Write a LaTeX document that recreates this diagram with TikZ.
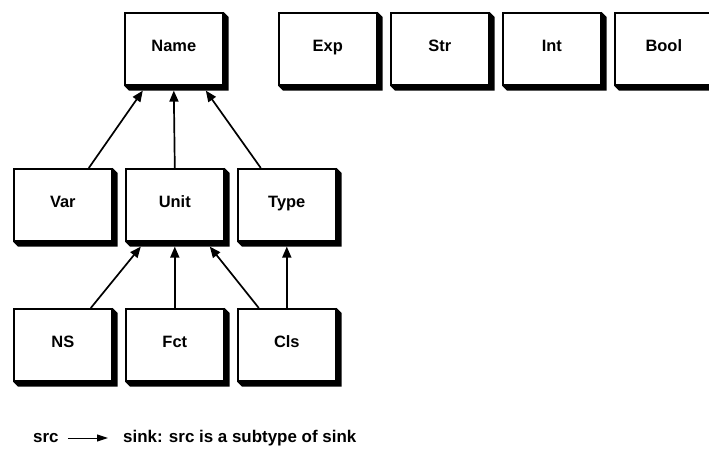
\documentclass[tikz,border=0pt]{standalone}
\usepackage{fontspec}
\setmainfont{Liberation Sans}
\usetikzlibrary{arrows.meta}
\tikzset{
  tbox/.style={draw=black, line width=1.6bp, fill=white, minimum width=98bp, minimum height=72bp,
    inner sep=0pt, anchor=north west},
  tlabel/.style={font=\bfseries\fontsize{16.5}{18}\selectfont, inner sep=0pt, anchor=base},
  sub/.style={line width=1.7bp, -{Triangle[length=11bp,width=9bp]}},
  legtxt/.style={font=\bfseries\fontsize{17}{19}\selectfont, inner sep=0pt}
}
\newcommand{\shbox}[3]{%
  \node[tbox] (#1) at #2 {};
  \fill[black] (#1.north east) -- ++(5bp,-5bp) -- ([shift={(5bp,-5bp)}]#1.south east)
     -- ([shift={(5bp,-5bp)}]#1.south west) -- (#1.south west) -- cycle;
  \node[tbox] at #2 {};
  \node[tlabel] (#1-t) at ([yshift=-3bp]#1.center) {#3};
}
\begin{document}
\begin{tikzpicture}[x=1bp,y=-1bp]
\useasboundingbox (0,0) rectangle (709,465);
\shbox{name}{(124,12)}{Name}
\shbox{exp}{(278,12)}{Exp}
\shbox{str}{(390,12)}{Str}
\shbox{int}{(502,12)}{Int}
\shbox{bool}{(614,12)}{Bool}
\shbox{var}{(13,168)}{Var}
\shbox{unit}{(125,168)}{Unit}
\shbox{type}{(237,168)}{Type}
\shbox{ns}{(13,308)}{NS}
\shbox{fct}{(125,308)}{Fct}
\shbox{cls}{(237,308)}{Cls}
% connectors
\draw[sub] ([xshift=26bp]var.north) -- ([xshift=-31bp,yshift=-5bp]name.south);
\draw[sub] (unit.north) -- ([yshift=-5bp]name.south);
\draw[sub] ([xshift=-26bp]type.north) -- ([xshift=32bp,yshift=-5bp]name.south);
\draw[sub] ([xshift=28bp]ns.north) -- ([xshift=-34bp,yshift=-5bp]unit.south);
\draw[sub] (fct.north) -- ([yshift=-5bp]unit.south);
\draw[sub] ([xshift=-28bp]cls.north) -- ([xshift=35bp,yshift=-5bp]unit.south);
\draw[sub] (cls.north) -- ([yshift=-5bp]type.south);
% legend
\node[legtxt, anchor=west] (src) at (33,438) {src};
\node[legtxt, anchor=west] (sink) at (123,438) {sink: src is a subtype of sink};
\draw[line width=1bp, -{Triangle[length=11bp,width=7bp]}, shorten <=9bp, shorten >=15bp] (src.east) -- (sink.west);
\end{tikzpicture}
\end{document}
